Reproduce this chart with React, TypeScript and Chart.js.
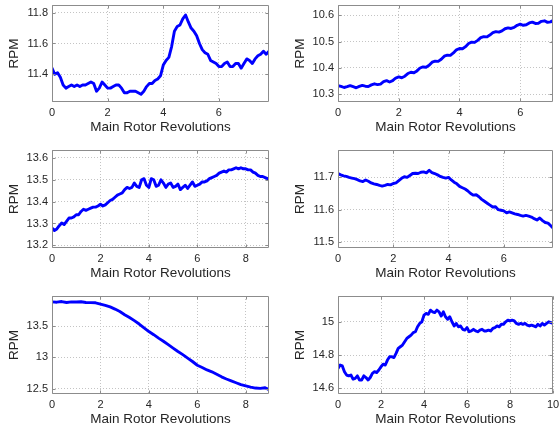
import React, { useEffect, useRef } from 'react';
import { Chart, registerables } from 'chart.js';

Chart.register(...registerables);

// ---------------- data ----------------
const xTitle = 'Main Rotor Revolutions';
const yTitle = 'RPM';

// sample spacing (revolutions) for each series
const step1 = 0.1;
const rpm1 = [
  11.44, 11.40, 11.41, 11.38, 11.33, 11.31, 11.32, 11.33, 11.32, 11.33,
  11.32, 11.33, 11.33, 11.34, 11.35, 11.34, 11.29, 11.31, 11.35, 11.33,
  11.31, 11.31, 11.32, 11.33, 11.33, 11.31, 11.28, 11.28, 11.29, 11.29,
  11.29, 11.28, 11.27, 11.29, 11.32, 11.34, 11.34, 11.36, 11.37, 11.39,
  11.46, 11.49, 11.51, 11.58, 11.68, 11.71, 11.72, 11.76, 11.785, 11.74,
  11.70, 11.68, 11.65, 11.60, 11.56, 11.54, 11.53, 11.49, 11.48, 11.47,
  11.45, 11.45, 11.47, 11.48, 11.45, 11.45, 11.47, 11.47, 11.44, 11.47,
  11.50, 11.49, 11.47, 11.50, 11.52, 11.53, 11.55, 11.53, 11.55,
];

const step2 = 0.1;
const rpm2 = [
  10.333, 10.330, 10.326, 10.329, 10.333, 10.329, 10.325, 10.330, 10.334, 10.331,
  10.330, 10.336, 10.340, 10.337, 10.339, 10.348, 10.352, 10.347, 10.352, 10.362,
  10.366, 10.363, 10.369, 10.379, 10.384, 10.382, 10.389, 10.400, 10.404, 10.403,
  10.410, 10.422, 10.426, 10.425, 10.433, 10.445, 10.449, 10.448, 10.457, 10.469,
  10.474, 10.473, 10.481, 10.493, 10.498, 10.497, 10.505, 10.515, 10.519, 10.518,
  10.525, 10.534, 10.538, 10.536, 10.541, 10.549, 10.552, 10.550, 10.554, 10.562,
  10.566, 10.562, 10.564, 10.571, 10.574, 10.569, 10.570, 10.577, 10.579, 10.573,
  10.575, 10.580,
];

const step3 = 0.1;
const rpm3 = [
  13.280, 13.268, 13.275, 13.290, 13.302, 13.295, 13.310, 13.325, 13.325, 13.330,
  13.340, 13.340, 13.355, 13.365, 13.360, 13.365, 13.370, 13.375, 13.375, 13.380,
  13.388, 13.380, 13.385, 13.395, 13.405, 13.410, 13.420, 13.430, 13.435, 13.440,
  13.455, 13.465, 13.460, 13.465, 13.485, 13.470, 13.465, 13.500, 13.505, 13.475,
  13.465, 13.505, 13.500, 13.470, 13.475, 13.500, 13.485, 13.465, 13.480, 13.485,
  13.465, 13.470, 13.480, 13.455, 13.465, 13.475, 13.460, 13.475, 13.490, 13.470,
  13.475, 13.480, 13.490, 13.490, 13.495, 13.505, 13.510, 13.515, 13.520, 13.530,
  13.535, 13.540, 13.535, 13.545, 13.545, 13.550, 13.555, 13.550, 13.555, 13.550,
  13.550, 13.545, 13.545, 13.535, 13.530, 13.520, 13.515, 13.515, 13.510, 13.505,
  13.505,
];

const step4 = 0.1;
const rpm4 = [
  11.712, 11.708, 11.705, 11.703, 11.700, 11.698, 11.696, 11.693, 11.689, 11.687,
  11.692, 11.688, 11.683, 11.680, 11.678, 11.675, 11.673, 11.675, 11.678, 11.677,
  11.681, 11.683, 11.690, 11.697, 11.702, 11.700, 11.706, 11.712, 11.713, 11.712,
  11.716, 11.717, 11.714, 11.722, 11.715, 11.712, 11.708, 11.703, 11.700, 11.698,
  11.700, 11.692, 11.685, 11.680, 11.672, 11.668, 11.664, 11.658, 11.650, 11.645,
  11.646, 11.640, 11.632, 11.626, 11.620, 11.614, 11.608, 11.609, 11.600, 11.598,
  11.596, 11.590, 11.593, 11.590, 11.587, 11.585, 11.582, 11.580, 11.582, 11.580,
  11.577, 11.572, 11.568, 11.574, 11.566, 11.560, 11.558, 11.550, 11.543,
];

const step5 = 0.2;
const rpm5 = [
  13.890, 13.885, 13.895, 13.880, 13.890, 13.888, 13.892, 13.880, 13.878, 13.875,
  13.855, 13.835, 13.810, 13.775, 13.735, 13.685, 13.640, 13.590, 13.535, 13.475,
  13.415, 13.365, 13.310, 13.260, 13.205, 13.150, 13.095, 13.045, 12.990, 12.935,
  12.875, 12.840, 12.800, 12.770, 12.730, 12.690, 12.655, 12.625, 12.595, 12.565,
  12.545, 12.525, 12.510, 12.505, 12.515, 12.485,
];

const step6 = 0.1;
const rpm6 = [
  14.720, 14.740, 14.735, 14.700, 14.680, 14.675, 14.680, 14.655, 14.660, 14.675,
  14.650, 14.650, 14.675, 14.665, 14.650, 14.665, 14.690, 14.700, 14.695, 14.710,
  14.730, 14.745, 14.740, 14.770, 14.790, 14.790, 14.785, 14.810, 14.840, 14.850,
  14.860, 14.880, 14.900, 14.910, 14.920, 14.935, 14.940, 14.970, 14.990, 15.000,
  15.040, 15.050, 15.045, 15.070, 15.060, 15.055, 15.070, 15.060, 15.035, 15.060,
  15.030, 15.015, 15.030, 15.000, 14.975, 14.990, 14.970, 14.975, 14.955, 14.950,
  14.965, 14.940, 14.945, 14.955, 14.945, 14.940, 14.950, 14.955, 14.945, 14.945,
  14.950, 14.945, 14.960, 14.965, 14.975, 14.970, 14.985, 14.985, 15.000, 15.010,
  15.005, 15.010, 15.005, 14.990, 14.985, 14.990, 14.985, 14.990, 14.980, 14.975,
  14.980, 14.975, 14.970, 14.985, 14.975, 14.990, 14.980, 14.990, 15.000, 14.995,
  14.990,
];

// axis ranges and tick values
const xTicksA = [0, 2, 4, 6];
const xTicksB = [0, 2, 4, 6, 8];
const xTicksC = [0, 2, 4, 6, 8, 10];
const yTicks1 = [11.4, 11.6, 11.8];
const yTicks2 = [10.3, 10.4, 10.5, 10.6];
const yTicks3 = [13.2, 13.3, 13.4, 13.5, 13.6];
const yTicks4 = [11.5, 11.6, 11.7];
const yTicks5 = [12.5, 13, 13.5];
const yTicks6 = [14.6, 14.8, 15];

// ---------------- style ----------------
const FONT = "'Liberation Sans', Arial, Helvetica, sans-serif";
const LINE_COLOR = '#0000ff';
const BOX_COLOR = '#8c8c8c';
const GRID_COLOR = '#c4c4c4';
const TEXT_COLOR = '#262626';
const Y_AXIS_W = 52;
const X_AXIS_H = 40;
const PAD_TOP = 5;
const PAD_RIGHT = 6;

type PanelDef = {
  left: number; top: number; width: number; height: number;
  rpm: number[]; step: number;
  xMax: number; xTicks: number[];
  yMin: number; yMax: number; yTicks: number[];
};

const COL_L = { left: 52, width: 217 };
const COL_R = { left: 338, width: 215 };
const ROW1 = { top: 5, height: 97 };
const ROW2 = { top: 150, height: 98 };
const ROW3 = { top: 296, height: 98 };

const panels: PanelDef[] = [
  { ...COL_L, ...ROW1, rpm: rpm1, step: step1, xMax: 7.8, xTicks: xTicksA, yMin: 11.22, yMax: 11.85, yTicks: yTicks1 },
  { ...COL_R, ...ROW1, rpm: rpm2, step: step2, xMax: 7.08, xTicks: xTicksA, yMin: 10.271, yMax: 10.639, yTicks: yTicks2 },
  { ...COL_L, ...ROW2, rpm: rpm3, step: step3, xMax: 8.96, xTicks: xTicksB, yMin: 13.188, yMax: 13.636, yTicks: yTicks3 },
  { ...COL_R, ...ROW2, rpm: rpm4, step: step4, xMax: 7.78, xTicks: xTicksA, yMin: 11.481, yMax: 11.785, yTicks: yTicks4 },
  { ...COL_L, ...ROW3, rpm: rpm5, step: step5, xMax: 8.96, xTicks: xTicksB, yMin: 12.415, yMax: 13.984, yTicks: yTicks5 },
  { ...COL_R, ...ROW3, rpm: rpm6, step: step6, xMax: 10.0, xTicks: xTicksC, yMin: 14.566, yMax: 15.155, yTicks: yTicks6 },
];

const boxPlugin = {
  id: 'matlabBox',
  afterDatasetsDraw(chart: any) {
    const { ctx, chartArea: a } = chart;
    const xs = chart.scales.x;
    const ys = chart.scales.y;
    ctx.save();
    ctx.strokeStyle = BOX_COLOR;
    ctx.lineWidth = 1;
    const L = Math.round(a.left) + 0.5;
    const T = Math.round(a.top) + 0.5;
    const R = Math.round(a.right) - 0.5;
    const B = Math.round(a.bottom) - 0.5;
    ctx.beginPath();
    ctx.rect(L, T, R - L, B - T);
    const tl = 3;
    xs.ticks.forEach((t: any) => {
      const px = Math.round(xs.getPixelForValue(t.value)) + 0.5;
      ctx.moveTo(px, B); ctx.lineTo(px, B - tl);
      ctx.moveTo(px, T); ctx.lineTo(px, T + tl);
    });
    ys.ticks.forEach((t: any) => {
      const py = Math.round(ys.getPixelForValue(t.value)) + 0.5;
      ctx.moveTo(L, py); ctx.lineTo(L + tl, py);
      ctx.moveTo(R, py); ctx.lineTo(R - tl, py);
    });
    ctx.stroke();
    ctx.restore();
  },
};

const fmt = (v: number) => String(Number(v.toFixed(3)));

function Panel({ p }: { p: PanelDef }) {
  const ref = useRef<HTMLCanvasElement | null>(null);
  const cw = p.width + Y_AXIS_W + PAD_RIGHT;
  const ch = p.height + PAD_TOP + X_AXIS_H;

  useEffect(() => {
    if (!ref.current) return;
    const points = p.rpm.map((y, i) => ({ x: Math.min(i * p.step, p.xMax), y }));
    const chart = new Chart(ref.current, {
      type: 'line',
      data: {
        datasets: [{
          data: points,
          borderColor: LINE_COLOR,
          borderWidth: 2.9,
          pointRadius: 0,
          tension: 0,
          fill: false,
          borderJoinStyle: 'round',
          borderCapStyle: 'round',
        }],
      },
      options: {
        animation: false,
        responsive: false,
        devicePixelRatio: 1,
        events: [],
        layout: { padding: { left: 0, top: PAD_TOP, right: PAD_RIGHT, bottom: 0 } },
        plugins: { legend: { display: false }, tooltip: { enabled: false } },
        scales: {
          x: {
            type: 'linear',
            min: 0,
            max: p.xMax,
            afterBuildTicks: (s: any) => { s.ticks = p.xTicks.map((v) => ({ value: v })); },
            afterFit: (s: any) => { s.height = X_AXIS_H; s.paddingLeft = 0; s.paddingRight = 0; },
            grid: { color: GRID_COLOR, lineWidth: 1, drawTicks: false },
            border: { display: false, dash: [1, 2] },
            ticks: {
              autoSkip: false, maxRotation: 0, padding: 4,
              color: TEXT_COLOR, font: { family: FONT, size: 11 },
              callback: (v: any) => fmt(Number(v)),
            },
            title: {
              display: true, text: xTitle, color: TEXT_COLOR,
              font: { family: FONT, size: 13.5 }, padding: { top: 0, bottom: 7 },
            },
          },
          y: {
            type: 'linear',
            min: p.yMin,
            max: p.yMax,
            afterBuildTicks: (s: any) => { s.ticks = p.yTicks.map((v) => ({ value: v })); },
            afterFit: (s: any) => { s.width = Y_AXIS_W; s.paddingTop = 0; s.paddingBottom = 0; },
            grid: { color: GRID_COLOR, lineWidth: 1, drawTicks: false },
            border: { display: false, dash: [1, 2] },
            ticks: {
              autoSkip: false, padding: 4,
              color: TEXT_COLOR, font: { family: FONT, size: 11 },
              callback: (v: any) => fmt(Number(v)),
            },
            title: {
              display: true, text: yTitle, color: TEXT_COLOR,
              font: { family: FONT, size: 13.5 }, padding: { top: 6, bottom: 0 },
            },
          },
        },
      },
      plugins: [boxPlugin],
    } as any);
    return () => chart.destroy();
  }, [p]);

  return (
    <canvas
      ref={ref}
      width={cw}
      height={ch}
      style={{
        position: 'absolute',
        left: p.left - Y_AXIS_W,
        top: p.top - PAD_TOP,
        width: cw,
        height: ch,
      }}
    />
  );
}

export default function App() {
  return (
    <div
      style={{
        position: 'absolute', left: 0, top: 0, width: 559, height: 432,
        overflow: 'hidden', background: '#ffffff',
      }}
    >
      {panels.map((p, i) => <Panel key={i} p={p} />)}
    </div>
  );
}
